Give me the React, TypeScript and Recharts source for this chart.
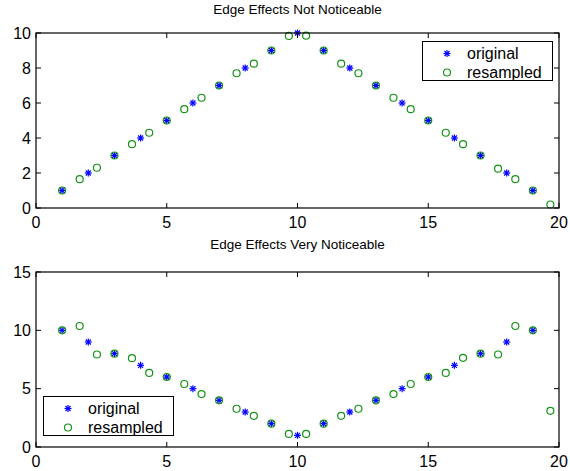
import React from 'react';
import { ScatterChart, Scatter, XAxis, YAxis } from 'recharts';

// sample positions of the original signal
const originalX = [1, 2, 3, 4, 5, 6, 7, 8, 9, 10, 11, 12, 13, 14, 15, 16, 17, 18, 19];
// positions after resampling by 3/2
const resampledX = [
  1, 1.67, 2.33, 3, 3.67, 4.33, 5, 5.67, 6.33, 7, 7.67, 8.33, 9, 9.67, 10.33,
  11, 11.67, 12.33, 13, 13.67, 14.33, 15, 15.67, 16.33, 17, 17.67, 18.33, 19, 19.67,
];

const topOriginal = [1, 2, 3, 4, 5, 6, 7, 8, 9, 10, 9, 8, 7, 6, 5, 4, 3, 2, 1];
const topResampled = [
  1, 1.65, 2.3, 3, 3.65, 4.3, 5, 5.65, 6.3, 7, 7.7, 8.25, 9, 9.83, 9.85,
  9, 8.25, 7.7, 7, 6.3, 5.65, 5, 4.3, 3.65, 3, 2.25, 1.65, 1, 0.2,
];

const bottomOriginal = [10, 9, 8, 7, 6, 5, 4, 3, 2, 1, 2, 3, 4, 5, 6, 7, 8, 9, 10];
const bottomResampled = [
  10, 10.37, 7.93, 8, 7.61, 6.35, 6, 5.4, 4.54, 4, 3.28, 2.67, 2, 1.12, 1.12,
  2, 2.67, 3.28, 4, 4.54, 5.4, 6, 6.35, 7.64, 8, 7.93, 10.37, 10, 3.1,
];

const xTicks = [0, 5, 10, 15, 20];
const topYTicks = [0, 2, 4, 6, 8, 10];
const bottomYTicks = [0, 5, 10, 15];

const titles = ['Edge Effects Not Noticeable', 'Edge Effects Very Noticeable'];
const legendLabels = ['original', 'resampled'];

const BLUE = '#0000ff';
const GREEN = '#179317';
const FONT = '"Liberation Sans", Arial, Helvetica, sans-serif';

// plot box geometry (same for both panels)
const CHART_W = 570;
const Y_AXIS_W = 36;
const RIGHT_PAD = 11;
const X_AXIS_H = 20;
const PLOT_W = CHART_W - Y_AXIS_W - RIGHT_PAD;
const PLOT_H = 175;
const TICK_LEN = 5;

const toPoints = (xs: number[], ys: number[]) => xs.map((x, i) => ({ x, y: ys[i] }));

function StarMark(props: any) {
  const { cx, cy } = props;
  const r = 3.5;
  const d = 2.5;
  return (
    <g stroke={BLUE} strokeWidth={1.2}>
      <line x1={cx - r} y1={cy} x2={cx + r} y2={cy} />
      <line x1={cx} y1={cy - r} x2={cx} y2={cy + r} />
      <line x1={cx - d} y1={cy - d} x2={cx + d} y2={cy + d} />
      <line x1={cx - d} y1={cy + d} x2={cx + d} y2={cy - d} />
    </g>
  );
}

function CircleMark(props: any) {
  const { cx, cy } = props;
  return <circle cx={cx} cy={cy} r={3.5} fill="none" stroke={GREEN} strokeWidth={1.2} />;
}

// bottom tick: label + inward tick marks at bottom and top; the first one also draws the box
function XTick(props: any) {
  const { x, y, payload, index } = props;
  return (
    <g>
      {index === 0 && (
        <rect
          x={x}
          y={y - PLOT_H}
          width={PLOT_W}
          height={PLOT_H}
          fill="none"
          stroke="#000"
          strokeWidth={1.2}
        />
      )}
      <line x1={x} y1={y} x2={x} y2={y - TICK_LEN} stroke="#000" />
      <line x1={x} y1={y - PLOT_H} x2={x} y2={y - PLOT_H + TICK_LEN} stroke="#000" />
      <text x={x} y={y + 19.5} textAnchor="middle" fill="#000" fontSize={16} fontFamily={FONT}>
        {payload.value}
      </text>
    </g>
  );
}

// left tick: label + inward tick marks at left and right
function YTick(props: any) {
  const { x, y, payload } = props;
  return (
    <g>
      <line x1={x} y1={y} x2={x + TICK_LEN} y2={y} stroke="#000" />
      <line x1={x + PLOT_W} y1={y} x2={x + PLOT_W - TICK_LEN} y2={y} stroke="#000" />
      <text x={x - 5} y={y + 5.7} textAnchor="end" fill="#000" fontSize={16} fontFamily={FONT}>
        {payload.value}
      </text>
    </g>
  );
}

function LegendBox({ left, top }: { left: number; top: number }) {
  return (
    <div
      style={{
        position: 'absolute',
        left,
        top,
        width: 129,
        height: 38,
        border: '1.5px solid #000',
        background: '#fff',
        fontFamily: FONT,
        fontSize: 16,
        color: '#000',
      }}
    >
      {legendLabels.map((label, i) => (
        <div
          key={label}
          style={{ position: 'absolute', left: 0, top: 2 + i * 19, height: 19, width: 129 }}
        >
          <svg width={40} height={19} style={{ position: 'absolute', left: 0, top: 0 }}>
            {i === 0 ? <StarMark cx={24} cy={9.5} /> : <CircleMark cx={24} cy={9.5} />}
          </svg>
          <span style={{ position: 'absolute', left: 44, top: 0, lineHeight: '19px' }}>{label}</span>
        </div>
      ))}
    </div>
  );
}

interface PanelProps {
  original: { x: number; y: number }[];
  resampled: { x: number; y: number }[];
  yMax: number;
  yTicks: number[];
  marginTop: number;
  marginBottom: number;
}

function Panel({ original, resampled, yMax, yTicks, marginTop, marginBottom }: PanelProps) {
  return (
    <ScatterChart
      width={CHART_W}
      height={marginTop + PLOT_H + X_AXIS_H + marginBottom}
      margin={{ top: marginTop, right: RIGHT_PAD, bottom: marginBottom, left: 0 }}
    >
      <XAxis
        type="number"
        dataKey="x"
        domain={[0, 20]}
        ticks={xTicks}
        interval={0}
        height={X_AXIS_H}
        tickSize={0}
        tickMargin={0}
        axisLine={false}
        tickLine={false}
        tick={XTick}
      />
      <YAxis
        type="number"
        dataKey="y"
        domain={[0, yMax]}
        ticks={yTicks}
        interval={0}
        width={Y_AXIS_W}
        tickSize={0}
        tickMargin={0}
        axisLine={false}
        tickLine={false}
        tick={YTick}
      />
      <Scatter data={original} shape={StarMark} isAnimationActive={false} />
      <Scatter data={resampled} shape={CircleMark} isAnimationActive={false} />
    </ScatterChart>
  );
}

export default function App() {
  const titleStyle: React.CSSProperties = {
    position: 'absolute',
    left: Y_AXIS_W,
    width: PLOT_W,
    textAlign: 'center',
    fontFamily: FONT,
    fontSize: 13.5,
    color: '#000',
  };
  return (
    <div
      style={{
        position: 'absolute',
        left: 0,
        top: 0,
        width: 570,
        height: 471,
        background: '#fff',
        overflow: 'hidden',
      }}
    >
      <div style={{ position: 'absolute', left: 0, top: 0 }}>
        <Panel
          original={toPoints(originalX, topOriginal)}
          resampled={toPoints(resampledX, topResampled)}
          yMax={10}
          yTicks={topYTicks}
          marginTop={33}
          marginBottom={12}
        />
      </div>
      <div style={{ position: 'absolute', left: 0, top: 240 }}>
        <Panel
          original={toPoints(originalX, bottomOriginal)}
          resampled={toPoints(resampledX, bottomResampled)}
          yMax={15}
          yTicks={bottomYTicks}
          marginTop={32}
          marginBottom={4}
        />
      </div>
      <div style={{ ...titleStyle, top: 2 }}>{titles[0]}</div>
      <div style={{ ...titleStyle, top: 237 }}>{titles[1]}</div>
      <LegendBox left={422} top={41} />
      <LegendBox left={43} top={396} />
    </div>
  );
}
